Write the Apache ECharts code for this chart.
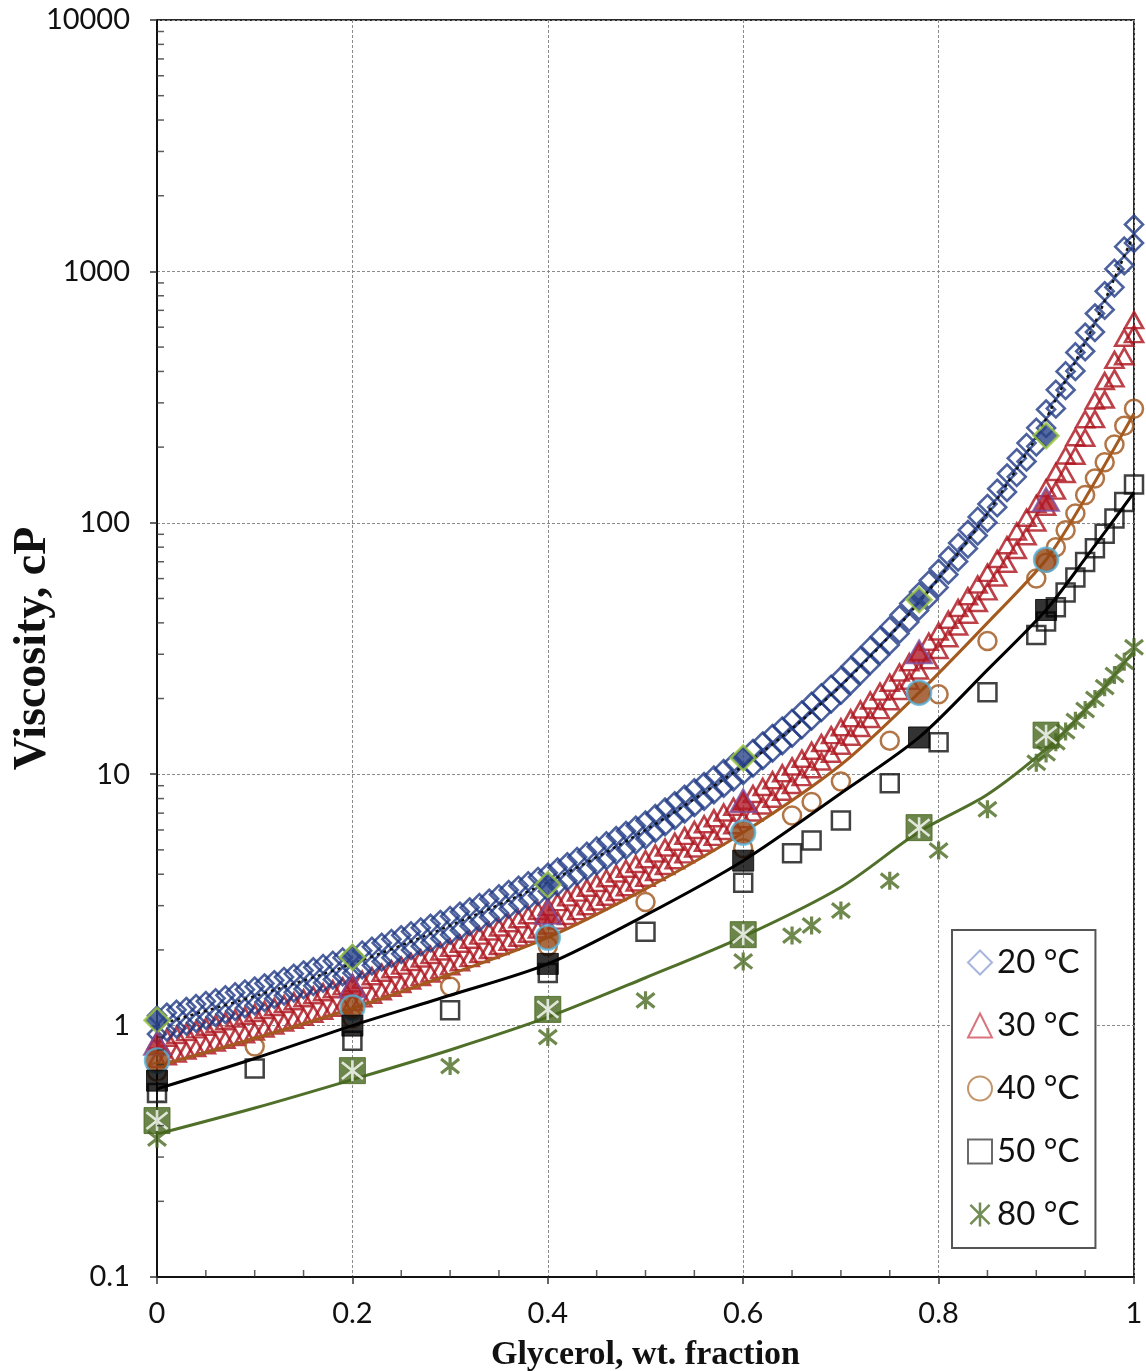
<!DOCTYPE html>
<html>
<head>
<meta charset="utf-8">
<title>Viscosity of glycerol–water mixtures</title>
<script src="https://cdn.jsdelivr.net/npm/echarts@6/dist/echarts.min.js"></script>
<style>
  html, body { margin: 0; padding: 0; background: #fff; }
  #chart { width: 1146px; height: 1371px; }
</style>
</head>
<body>
<div id="chart"></div>
<script>
// Glycerol mass fraction grid used by the dense 20 °C and 30 °C data sets
const xGrid = [0,0.01,0.02,0.03,0.04,0.05,0.06,0.07,0.08,0.09,0.1,
  0.11,0.12,0.13,0.14,0.15,0.16,0.17,0.18,0.19,0.2,
  0.21,0.22,0.23,0.24,0.25,0.26,0.27,0.28,0.29,0.3,
  0.31,0.32,0.33,0.34,0.35,0.36,0.37,0.38,0.39,0.4,
  0.41,0.42,0.43,0.44,0.45,0.46,0.47,0.48,0.49,0.5,
  0.51,0.52,0.53,0.54,0.55,0.56,0.57,0.58,0.59,0.6,
  0.61,0.62,0.63,0.64,0.65,0.66,0.67,0.68,0.69,0.7,
  0.71,0.72,0.73,0.74,0.75,0.76,0.77,0.78,0.79,0.8,
  0.81,0.82,0.83,0.84,0.85,0.86,0.87,0.88,0.89,0.9,
  0.91,0.92,0.93,0.94,0.95,0.96,0.97,0.98,0.99,1];

// 20 °C, two data sets (cP)
const visc20A = [1.095,1.125,1.155,1.186,1.218,1.251,1.284,1.319,1.355,1.391,1.428,
  1.470,1.515,1.560,1.607,1.656,1.705,1.756,1.808,1.863,1.918,
  1.987,2.058,2.132,2.207,2.286,2.369,2.453,2.540,2.631,2.725,
  2.836,2.950,3.069,3.195,3.325,3.459,3.599,3.745,3.897,4.055,
  4.253,4.461,4.679,4.909,5.149,5.402,5.667,5.945,6.235,6.540,
  6.937,7.358,7.802,8.275,8.777,9.306,9.870,10.47,11.10,11.77,
  12.60,13.49,14.45,15.47,16.57,17.92,19.38,20.96,22.67,24.53,
  26.87,29.44,32.24,35.33,38.70,42.99,47.76,53.06,58.96,65.51,
  73.80,83.13,93.64,105.5,118.8,136.6,157.1,180.6,207.6,238.7,
  282.3,337.9,400.0,476.3,570.1,680.2,833.9,1023,1254,1537];
const visc20B = [0.925,0.949,0.975,1.001,1.028,1.056,1.084,1.113,1.144,1.174,1.205,
  1.241,1.279,1.317,1.356,1.397,1.439,1.482,1.526,1.572,1.619,
  1.677,1.737,1.800,1.863,1.929,1.999,2.070,2.144,2.221,2.300,
  2.394,2.490,2.591,2.697,2.806,2.919,3.038,3.161,3.289,3.422,
  3.590,3.766,3.950,4.144,4.346,4.560,4.783,5.018,5.262,5.520,
  5.855,6.210,6.585,6.985,7.408,7.855,8.331,8.835,9.366,9.936,
  10.64,11.39,12.20,13.05,13.98,15.12,16.36,17.69,19.14,20.70,
  22.68,24.85,27.21,29.82,32.66,36.28,40.31,44.79,49.76,55.29,
  62.29,70.17,79.04,89.02,100.3,115.3,132.6,152.4,175.3,201.5,
  238.3,285.2,337.6,402.0,481.2,574.1,703.8,863.9,1058,1297];

// 30 °C, two data sets (cP)
const visc30A = [0.873,0.895,0.918,0.942,0.966,0.990,1.015,1.041,1.067,1.094,1.123,
  1.153,1.185,1.218,1.251,1.285,1.320,1.357,1.394,1.432,1.472,
  1.521,1.571,1.623,1.676,1.732,1.789,1.849,1.910,1.973,2.038,
  2.116,2.197,2.280,2.369,2.458,2.553,2.651,2.750,2.856,2.965,
  3.098,3.236,3.380,3.532,3.690,3.854,4.026,4.206,4.393,4.589,
  4.841,5.108,5.388,5.684,5.997,6.325,6.674,7.041,7.428,7.837,
  8.345,8.889,9.467,10.08,10.74,11.53,12.39,13.31,14.30,15.37,
  16.68,18.09,19.63,21.30,23.11,25.38,27.88,30.63,33.64,36.95,
  41.14,45.80,51.00,56.79,63.22,71.72,81.37,92.31,104.7,118.8,
  137.3,159.1,185.3,219.1,258.3,306.3,366.2,444.7,545.0,640.0];
const visc30B = [0.737,0.755,0.775,0.795,0.815,0.835,0.857,0.879,0.901,0.924,0.948,
  0.973,1.000,1.028,1.056,1.085,1.114,1.145,1.177,1.209,1.242,
  1.283,1.326,1.370,1.415,1.462,1.510,1.560,1.612,1.665,1.720,
  1.786,1.855,1.925,1.999,2.075,2.155,2.237,2.321,2.410,2.502,
  2.615,2.731,2.853,2.981,3.114,3.253,3.398,3.550,3.708,3.873,
  4.086,4.311,4.548,4.798,5.062,5.339,5.633,5.943,6.270,6.615,
  7.044,7.503,7.990,8.510,9.062,9.734,10.46,11.23,12.07,12.97,
  14.08,15.27,16.57,17.98,19.50,21.42,23.53,25.85,28.39,31.19,
  34.72,38.66,43.05,47.93,53.36,60.54,68.68,77.91,88.39,100.3,
  115.9,134.3,156.4,184.9,218.0,258.5,309.1,375.4,460.0,563.0];

// 40 °C and 50 °C tabulated points
const xTab = [0,0.1,0.2,0.3,0.4,0.5,0.6,0.65,0.67,0.7,0.75,0.8,0.85,0.9,0.91,0.92,0.93,0.94,0.95,0.96,0.97,0.98,0.99,1];
const visc40 = [0.656,0.826,1.07,1.43,2.07,3.10,5.08,6.85,7.76,9.35,13.6,20.8,33.9,60.0,69.3,79.9,93.3,109,129,150,174,205,243,284];
const visc50 = [0.54,0.675,0.87,1.15,1.62,2.36,3.70,4.85,5.45,6.55,9.20,13.4,21.2,35.8,40.5,46.1,52.8,60.6,69.8,79.2,90.5,104,121,142];

// 80 °C tabulated points
const x80 = [0,0.3,0.4,0.5,0.6,0.65,0.67,0.7,0.75,0.8,0.85,0.9,0.91,0.92,0.93,0.94,0.95,0.96,0.97,0.98,0.99,1];
const visc80 = [0.355,0.69,0.90,1.26,1.80,2.28,2.50,2.87,3.77,4.97,7.25,11.1,12.1,13.4,14.8,16.3,18.0,19.9,22.2,24.8,28.0,32.0];

// Measured points (filled markers)
const xMeas = [0,0.2,0.4,0.6,0.78,0.91];
const meas20 = [1.05,1.87,3.64,11.6,49.4,222];
const meas30 = [0.85,1.44,2.82,7.85,30.7,124];
const meas40 = [0.726,1.18,2.24,5.86,21.1,71.3];
const meas50 = [0.604,1.00,1.76,4.53,14.0,45.0];
const meas80 = [0.419,0.662,1.16,2.30,6.13,14.3];

// Correlation curves
const x20Fit = [0,0.1,0.2,0.3,0.4,0.5,0.6,0.65,0.7,0.75,0.8,0.85,0.9,0.92,0.94,0.96,0.98,1];
const fit20 = [1.005,1.31,1.76,2.50,3.72,6.00,10.8,15.2,22.5,35.5,60.1,109,219,310,437,624,939,1410];
const xFit = [0,0.1,0.2,0.3,0.4,0.5,0.6,0.7,0.78,0.85,0.91,0.95,1];
const fit40 = [0.69,0.89,1.17,1.60,2.24,3.50,5.86,10.9,21.1,40,71.3,125,272];
const fit50 = [0.56,0.74,1.00,1.32,1.76,2.75,4.53,8.4,14.0,26,45.0,72,132];
const fit80 = [0.37,0.47,0.61,0.80,1.08,1.55,2.26,3.55,5.9,8.3,12.6,18,31];

// Axis ticks and labels
const xTickLabels = ['0','0.2','0.4','0.6','0.8','1'];
const yTickLabels = ['0.1','1','10','100','1000','10000'];
const xMinorTicks = [0.05,0.1,0.15,0.25,0.3,0.35,0.45,0.5,0.55,0.65,0.7,0.75,0.85,0.9,0.95];
const yMinorTicks = [0.2,0.3,0.4,0.5,0.6,0.7,0.8,0.9,2,3,4,5,6,7,8,9,20,30,40,50,60,70,80,90,200,300,400,500,600,700,800,900,2000,3000,4000,5000,6000,7000,8000,9000];

const seriesNames = ['20 °C','30 °C','40 °C','50 °C','80 °C'];

const ASTERISK = 'path://M1,1L9,9M9,1L1,9M5,0L5,10';
const CLEAR = 'rgba(0,0,0,0)';

const pairs = (xs, ys) => xs.map((x, i) => [x, ys[i]]);

function openMarkers(name, xs, ys, symbol, size, color, width) {
  return {
    type: 'scatter', name, symbol, symbolSize: size, clip: false, silent: true, z: 2,
    itemStyle: { color: CLEAR, borderColor: color, borderWidth: width },
    data: pairs(xs, ys)
  };
}
function fitLine(name, xs, ys, color, lineType, width) {
  return {
    type: 'line', name, showSymbol: false, smooth: 0.3,
    clip: false, silent: true, z: 3,
    lineStyle: { color, width: width || 3, type: lineType || 'solid' },
    data: pairs(xs, ys)
  };
}
function filledMarkers(name, ys, symbol, size, fill, border, width) {
  return {
    type: 'scatter', name, symbol, symbolSize: size, clip: false, silent: true, z: 4,
    itemStyle: { color: fill, borderColor: border, borderWidth: width },
    data: pairs(xMeas, ys)
  };
}

const chart = echarts.init(document.getElementById('chart'), null, { renderer: 'canvas' });

const option = {
  animation: false,
  backgroundColor: '#ffffff',
  grid: {
    left: 157, top: 20, width: 977, height: 1257,
    outerBoundsMode: 'none', containLabel: false,
    show: true, borderColor: '#2a2a2a', borderWidth: 2, backgroundColor: CLEAR
  },
  xAxis: {
    type: 'value', min: 0, max: 1, interval: 0.2,
    axisLine: { onZero: false, lineStyle: { color: '#111', width: 2 } },
    axisTick: { show: true, length: 7, lineStyle: { color: '#333', width: 1.5 } },
    axisLabel: {
      margin: 22, fontFamily: 'Lato', fontSize: 29, color: '#111',
      formatter: v => xTickLabels.find(t => Math.abs(Number(t) - v) < 1e-9) || ''
    },
    splitLine: { show: true, lineStyle: { color: '#8a8a8a', width: 1, type: [3, 2] } },
    name: 'Glycerol, wt. fraction', nameLocation: 'middle', nameGap: 61,
    nameTextStyle: { fontFamily: 'Liberation Serif', fontWeight: 'bold', fontSize: 34, color: '#111' }
  },
  yAxis: {
    type: 'log', logBase: 10, min: 0.1, max: 10000,
    axisLine: { show: true, onZero: false, lineStyle: { color: '#111', width: 2 } },
    axisTick: { show: true, length: 7, lineStyle: { color: '#333', width: 1.5 } },
    axisLabel: {
      margin: 27, fontFamily: 'Lato', fontSize: 29, color: '#111',
      formatter: v => yTickLabels.find(t => Math.abs(Math.log10(Number(t)) - Math.log10(v)) < 1e-6) || ''
    },
    splitLine: { show: true, lineStyle: { color: '#8a8a8a', width: 1, type: [3, 2] } },
    name: 'Viscosity, cP', nameLocation: 'middle', nameGap: 101, nameRotate: 90,
    nameMoveOverlap: false,
    nameTextStyle: { fontFamily: 'Liberation Serif', fontWeight: 'bold', fontSize: 46, color: '#111' }
  },
  legend: {
    orient: 'vertical', left: 952, top: 930,
    padding: [16, 16, 17, 15], itemGap: 30, itemWidth: 24, itemHeight: 24,
    borderColor: '#555', borderWidth: 2, backgroundColor: '#fff',
    selectedMode: false,
    textStyle: { fontFamily: 'Lato', fontSize: 33, color: '#111' },
    data: [
      { name: seriesNames[0], icon: 'diamond', itemStyle: { color: CLEAR, borderColor: '#8ea2d4', borderWidth: 2 } },
      { name: seriesNames[1], icon: 'triangle', itemStyle: { color: CLEAR, borderColor: '#d0505c', borderWidth: 2 } },
      { name: seriesNames[2], icon: 'circle', itemStyle: { color: CLEAR, borderColor: '#b57a45', borderWidth: 2 } },
      { name: seriesNames[3], icon: 'rect', itemStyle: { color: CLEAR, borderColor: '#444', borderWidth: 2 } },
      { name: seriesNames[4], icon: ASTERISK, itemStyle: { color: CLEAR, borderColor: '#4f6f2a', borderWidth: 2.5 } }
    ]
  },
  series: [
    // dense open-marker data
    openMarkers(seriesNames[1], xGrid, visc30A, 'triangle', [18, 16], '#ad111c', 2.6),
    openMarkers(seriesNames[1], xGrid, visc30B, 'triangle', [18, 16], '#ad111c', 2.6),
    openMarkers(seriesNames[0], xGrid, visc20A, 'diamond', [18, 18], '#1f3a85', 2.6),
    openMarkers(seriesNames[0], xGrid, visc20B, 'diamond', [18, 18], '#1f3a85', 2.6),
    openMarkers(seriesNames[2], xTab, visc40, 'circle', 18, '#9e5218', 2.5),
    openMarkers(seriesNames[3], xTab, visc50, 'rect', 18, '#111', 2.5),
    openMarkers(seriesNames[4], x80, visc80, ASTERISK, 18, '#4b6a20', 3.2),

    // correlation curves
    fitLine('fit 20', x20Fit, fit20, '#111', [3, 4], 2.5),
    fitLine('fit 40', xFit, fit40, '#a45a1e'),
    fitLine('fit 50', xFit, fit50, '#000'),
    fitLine('fit 80', xFit, fit80, '#50702a'),

    // measured points
    filledMarkers('meas 20', meas20, 'diamond', 25, '#2a4589', '#9cc83e', 2.5),
    filledMarkers('meas 30', meas30, 'triangle', [26, 23], '#b01a28', '#7a4fa0', 2),
    filledMarkers('meas 40', meas40, 'circle', 24, '#934614', '#55b2da', 2.5),
    filledMarkers('meas 50', meas50, 'rect', 21, '#000', '#000', 1),
    filledMarkers('meas 80', meas80, 'rect', 26, '#47661e', '#47661e', 1),
    {
      type: 'scatter', name: 'meas 80 mark', symbol: ASTERISK, symbolSize: 21,
      clip: false, silent: true, z: 5,
      itemStyle: { color: CLEAR, borderColor: '#ffffff', borderWidth: 2.6 },
      data: pairs(xMeas, meas80)
    },

    // minor ticks on the left and bottom axes
    {
      type: 'scatter', name: 'y minor ticks', symbol: 'rect', symbolSize: [7, 1.5],
      symbolOffset: [3.5, 0], clip: false, silent: true, z: 6,
      itemStyle: { color: '#333' },
      data: yMinorTicks.map(v => [0, v])
    },
    {
      type: 'scatter', name: 'x minor ticks', symbol: 'rect', symbolSize: [1.5, 7],
      symbolOffset: [0, -3.5], clip: false, silent: true, z: 6,
      itemStyle: { color: '#333' },
      data: xMinorTicks.map(v => [v, 0.1])
    }
  ]
};

chart.setOption(option);
</script>
</body>
</html>
